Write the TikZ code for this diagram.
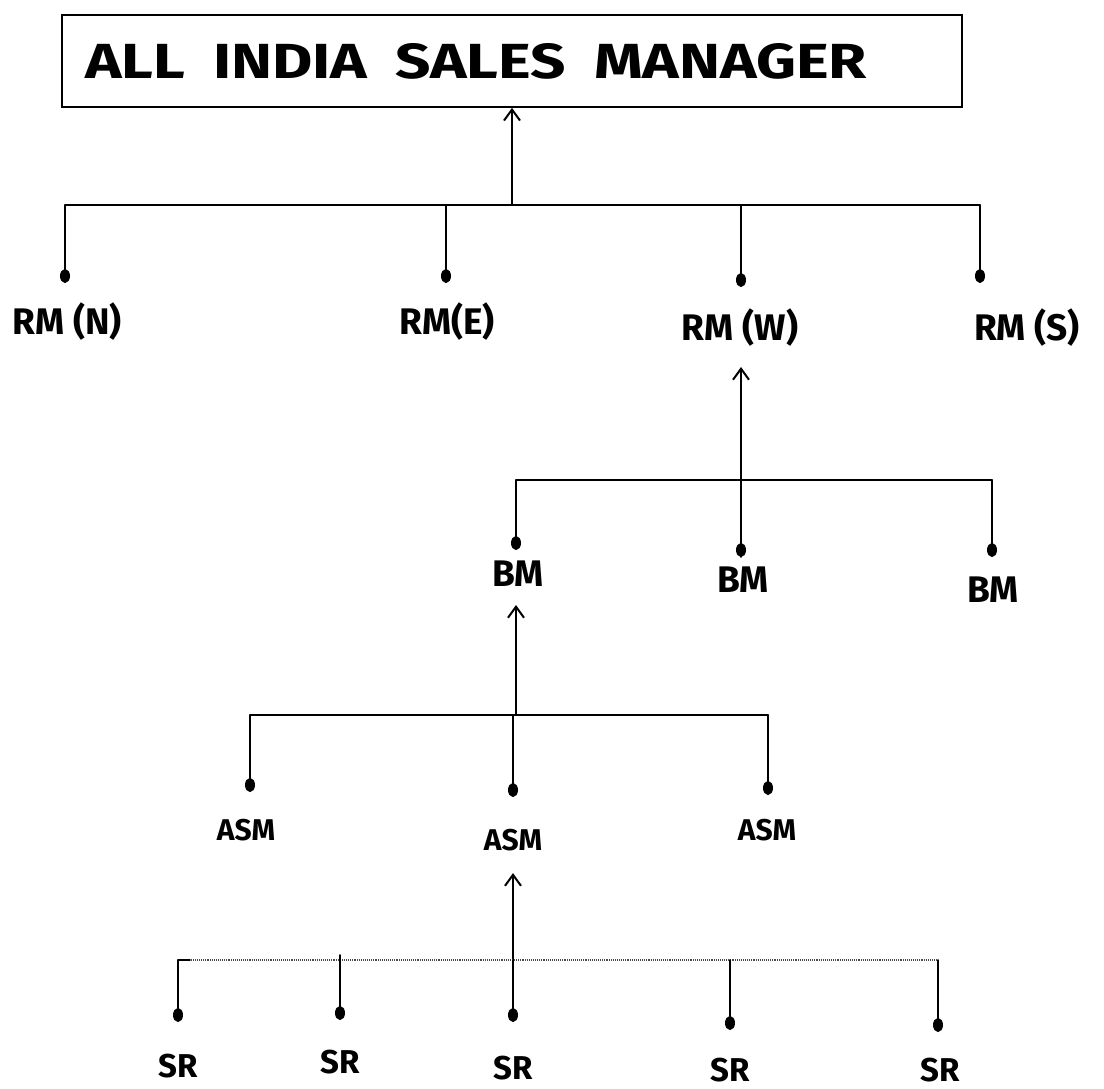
\documentclass[tikz,border=0pt]{standalone}
\usepackage{fontspec}
\newfontfamily\hand{Fira Sans}
\usetikzlibrary{arrows.meta}
\begin{document}
\begin{tikzpicture}[x=1pt,y=-1pt,
  conn/.style={line width=1.7pt, line cap=round},
  faint/.style={line width=1.1pt, densely dotted, black!70},
  arr/.style={conn, -{Straight Barb[length=11pt,width=16pt,line width=2pt]}},
  drop/.style={conn, -{Ellipse[length=14pt,width=10pt]}},
  box/.style={draw, line width=1.7pt, minimum height=92pt, text width=854pt, inner xsep=23pt, align=left},
  lbl/.style={inner sep=0pt, font=\hand\bfseries},
  rm/.style={lbl, font=\hand\bfseries\fontsize{37}{37}\selectfont},
  bm/.style={lbl, font=\hand\bfseries\fontsize{37}{37}\selectfont},
  asm/.style={lbl, font=\hand\bfseries\fontsize{30}{30}\selectfont},
  sr/.style={lbl, font=\hand\bfseries\fontsize{33}{33}\selectfont}
]
\useasboundingbox (0,0) rectangle (1104,1089);

% top box
\node[box] (top) at (512,61) {\hand\bfseries\resizebox{782pt}{35pt}{ALL\hspace{0.45em}INDIA\hspace{0.45em}SALES\hspace{0.45em}MANAGER}};

% level 1
\coordinate (b1) at (512,205);
\coordinate (pN) at (65,283);
\coordinate (pE) at (446,283);
\coordinate (pW) at (741,287);
\coordinate (pS) at (980,283);
\draw[arr] (b1) -- (top.south);
\draw[conn] (pN |- b1) -- (pS |- b1);
\foreach \p in {pN,pE,pW,pS} \draw[drop] (\p |- b1) -- (\p);
\node[rm] (rmN) at (67,322) {RM (N)};
\node[rm] (rmE) at (447,322) {RM(E)};
\node[rm] (rmW) at (740,328) {RM (W)};
\node[rm] (rmS) at (1027,328) {RM (S)};

% level 2
\coordinate (b2) at (741,480);
\coordinate (pB1) at (516,550);
\coordinate (pB2) at (741,557);
\coordinate (pB3) at (992,557);
\draw[arr, shorten >=20pt] (b2 |- pB2) -- (rmW.south -| b2);
\draw[conn] (pB1 |- b2) -- (pB3 |- b2);
\foreach \p in {pB1,pB2,pB3} \draw[drop] (\p |- b2) -- (\p);
\node[bm] (bm1) at (518,574) {BM};
\node[bm] (bm2) at (743,580) {BM};
\node[bm] (bm3) at (993,590) {BM};

% level 3
\coordinate (b3) at (516,715);
\coordinate (pA1) at (250,792);
\coordinate (pA2) at (513,797);
\coordinate (pA3) at (768,795);
\draw[arr, shorten >=18pt] (b3) -- (bm1.south -| b3);
\draw[conn] (pA1 |- b3) -- (pA3 |- b3);
\foreach \p in {pA1,pA2,pA3} \draw[drop] (\p |- b3) -- (\p);
\node[asm] (asm1) at (246,830) {ASM};
\node[asm] (asm2) at (513,840) {ASM};
\node[asm] (asm3) at (767,830) {ASM};

% level 4
\coordinate (b4) at (513,960);
\coordinate (pS1) at (178,1022);
\coordinate (pS2) at (340,1020);
\coordinate (pS3) at (513,1022);
\coordinate (pS4) at (730,1030);
\coordinate (pS5) at (938,1032);
\draw[arr, shorten >=22pt] (b4) -- (asm2.south -| b4);
\draw[faint] (pS1 |- b4) -- (pS5 |- b4);
\draw[conn] (pS1 |- b4) -- ++(12,0);
\foreach \p in {pS1,pS3,pS4,pS5} \draw[drop] (\p |- b4) -- (\p);
\draw[drop] ([yshift=5pt]pS2 |- b4) -- (pS2);
\node[sr] (sr1) at (178,1066) {SR};
\node[sr] (sr2) at (340,1062) {SR};
\node[sr] (sr3) at (513,1068) {SR};
\node[sr] (sr4) at (730,1070) {SR};
\node[sr] (sr5) at (940,1070) {SR};
\end{tikzpicture}
\end{document}
